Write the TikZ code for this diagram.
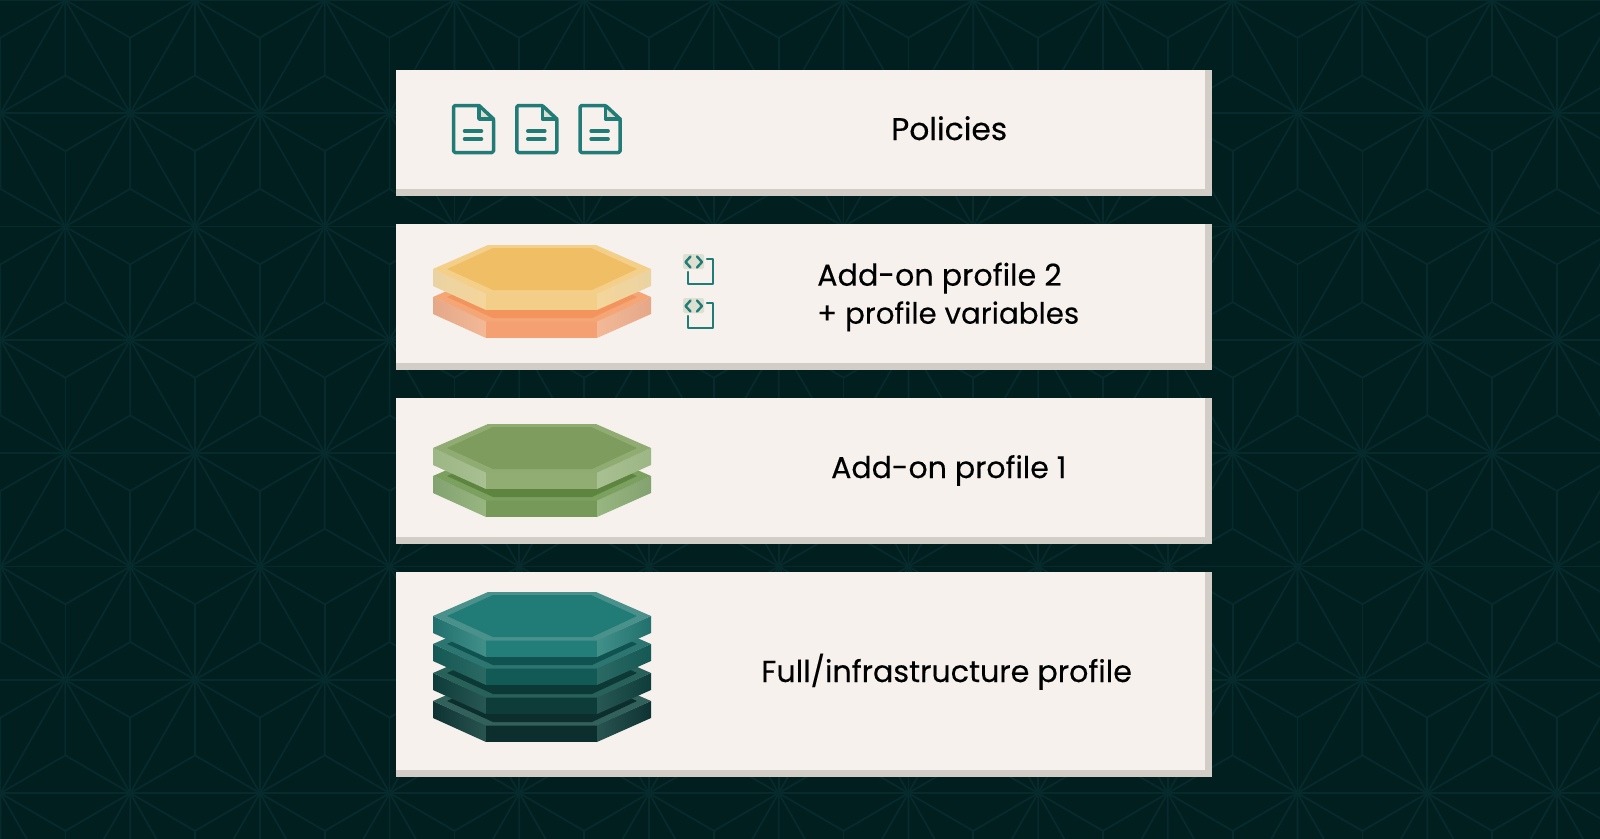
\documentclass[tikz,border=0pt]{standalone}
\usepackage{fontspec}
\setmainfont{Poppins}
\newfontfamily\lblfont[FakeBold=0.25]{Poppins}
\usetikzlibrary{calc}
\definecolor{bgc}{HTML}{021F20}
\definecolor{patc}{HTML}{072B2D}
\definecolor{cardc}{HTML}{F6F1ED}
\definecolor{shadec}{HTML}{D3CDC7}
\definecolor{iconteal}{HTML}{217C78}
\definecolor{tealtint}{HTML}{DDE0D0}
\tikzset{
 x=1pt,y=-1pt,
 lbl/.style={font=\lblfont,text=black,align=left,inner sep=0pt},
 pat/.style={draw=patc,line width=1.7pt},
 icon/.style={draw=iconteal,line width=3.5pt,line join=round,line cap=round},
 codeline/.style={draw=iconteal,line width=2.4pt,line join=round,line cap=round},
}
% hexagon slab: #1 y offset, #2 top, #3 rim, #4 front, #5 side dark, #6 side light
\newcommand{\slab}[6]{%
 \definecolor{sa}{HTML}{#2}\definecolor{sb}{HTML}{#3}\definecolor{sc}{HTML}{#4}%
 \definecolor{sd}{HTML}{#5}\definecolor{se}{HTML}{#6}%
 \begin{scope}[shift={(0,#1)}]
  \shade[left color=sd,right color=se] (433,39) -- (486,63) -- (486,80) -- (433,56) -- cycle;
  \shade[left color=se,right color=sd] (597,63) -- (651,39) -- (651,56) -- (597,80) -- cycle;
  \fill[sc] (486,63) rectangle (597,80);
  \fill[sb] (433,39) -- (488,15) -- (596,15) -- (651,39) -- (597,63.5) -- (486,63.5) -- cycle;
  \fill[sa] (447,39) -- (493,18) -- (591,18) -- (637,39) -- (592,60) -- (493,60) -- cycle;
 \end{scope}}
\newcommand{\docicon}[1]{%
 \begin{scope}[shift={(#1,0)}]
  \fill[tealtint] (479,106) -- (492,118) -- (479,118) -- cycle;
  \draw[icon,rounded corners=1.5pt] (453.5,128) -- (453.5,105.5) -- (479,105.5) -- (493.5,119) -- (493.5,152.5) -- (453.5,152.5) -- cycle;
  \draw[icon] (479,105.5) -- (479,119) -- (493.5,119);
  \draw[icon] (464.5,131) -- (481.5,131) (464.5,139) -- (481.5,139);
 \end{scope}}
\newcommand{\codeicon}[1]{%
 \begin{scope}[shift={(0,#1)}]
  \draw[codeline] (707,259) -- (713,259) -- (713,284) -- (688,284) -- (688,272);
  \fill[tealtint,rounded corners=1.5pt] (683,254) rectangle (704,269);
  \draw[codeline] (690.5,256.5) -- (685.5,262) -- (690.5,267.5);
  \draw[codeline] (697,256.5) -- (702,262) -- (697,267.5);
 \end{scope}}
\begin{document}
\begin{tikzpicture}
\useasboundingbox (0,0) rectangle (1600,838);
\begin{scope}
\clip (0,0) rectangle (1600,838);
\fill[bgc] (-5,-5) rectangle (1605,843);
% asanoha background
\foreach \r in {0,...,8}{
 \pgfmathsetmacro{\yy}{113.3*\r}
 \pgfmathsetmacro{\off}{mod(\r,2)==0 ? 65.3 : 0.5}
 \foreach \c in {-1,...,13}{
  \pgfmathsetmacro{\xx}{\off+129.7*\c}
  \draw[pat] (\xx,\yy) -- ++(129.7,0);
  \draw[pat] (\xx,\yy) -- ++(64.85,113.3) -- ++(64.85,-113.3);
  \draw[pat] (\xx,\yy) -- ++(64.85,37.77) coordinate (m) -- ++(64.85,-37.77);
  \draw[pat] (m) -- ++(0,75.53);
  \draw[pat] (\xx,\yy) -- ++(0,75.53) coordinate (n) -- ++(64.85,37.77);
  \draw[pat] (n) -- ++(-64.85,37.77);
 }}
\end{scope}
% cards
\foreach \t/\b/\s in {70/196/189,224/369.5/362.7,398/543.7/537,572/777/770}{
 \fill[shadec] (396,\t) rectangle (1212,\b);
 \fill[cardc] (396,\t) rectangle (1205,\s);
}
\docicon{0}\docicon{63.3}\docicon{126.6}
\node[lbl,anchor=base west,font=\lblfont\fontsize{31.3}{38}\selectfont] (policies) at (891,140) {Policies};
% add-on 2
\slab{258}{F2945C}{F5A677}{F4A072}{E4A888}{F3B997}
\slab{230}{EFBE65}{F3CF8A}{F3CE88}{EAD3A2}{F5D59A}
\codeicon{0}\codeicon{44}
\node[lbl,anchor=base west,font=\lblfont\fontsize{30.2}{38}\selectfont] (addtwoa) at (817,285.7) {Add-on profile 2};
\node[lbl,anchor=base west,font=\lblfont\fontsize{29.3}{38}\selectfont] (addtwob) at (817,323.7) {+ profile variables};
% add-on 1
\slab{437}{5E8540}{7CA060}{76995A}{82A270}{98B680}
\slab{409}{7E9C5D}{90AC72}{92AD73}{9DB685}{A8C092}
\node[lbl,anchor=base west,font=\lblfont\fontsize{30}{38}\selectfont] (addone) at (831,478) {Add-on profile 1};
% full
\slab{662}{0C2F2D}{32605B}{0C2F2D}{0E3232}{285450}
\slab{634}{0C3836}{28605A}{0D3C39}{0E3C3A}{285853}
\slab{605}{0F5250}{2C7570}{115A56}{155854}{2B6964}
\slab{577}{217C78}{4A918C}{237E79}{22706D}{42908A}
\node[lbl,anchor=base west,font=\lblfont\fontsize{30.2}{38}\selectfont] (full) at (761,682) {Full/infrastructure profile};
\end{tikzpicture}
\end{document}
